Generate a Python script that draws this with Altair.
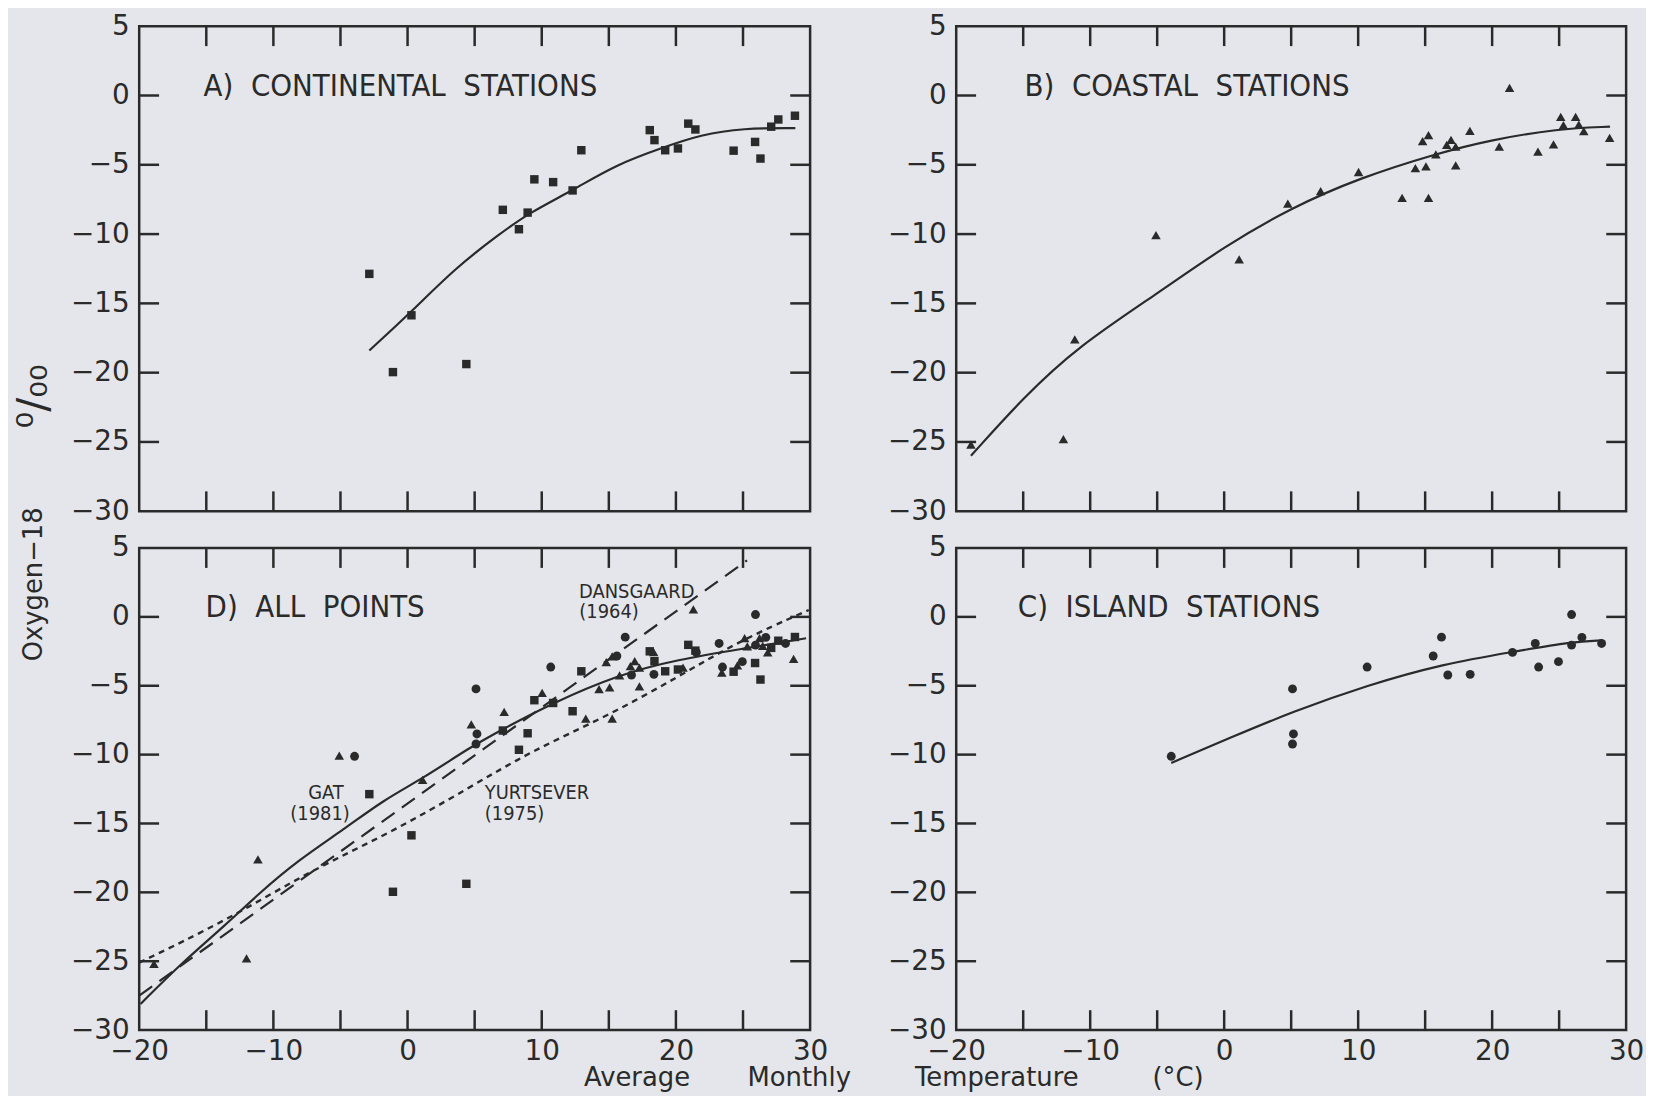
import altair as alt
import pandas as pd

# ---------------- data ----------------
# A) continental stations (squares)
cont_t = [-2.85, -1.09, 0.29, 4.38, 7.1, 8.3, 8.95, 9.45, 10.85, 12.3, 12.95, 18.05, 18.4,
          19.2, 20.15, 20.92, 21.45, 24.3, 25.9, 26.3, 27.1, 27.63, 28.87]
cont_o = [-12.87, -19.96, -15.86, -19.38, -8.25, -9.65, -8.45, -6.05, -6.25, -6.85, -3.95, -2.5, -3.22,
          -3.95, -3.82, -2.03, -2.45, -3.98, -3.35, -4.55, -2.25, -1.73, -1.46]
# B) coastal stations (triangles)
coast_t = [-18.9, -12.0, -11.15, -5.09, 1.12, 4.75, 7.2, 10.03, 13.28, 14.27, 14.81, 15.06, 15.25, 15.25,
           15.8, 16.61, 16.93, 17.28, 17.28, 18.34, 20.53, 21.3, 23.42, 24.58, 25.12, 25.32, 26.23,
           26.47, 26.84, 28.77]
coast_o = [-25.2, -24.8, -17.6, -10.08, -11.83, -7.8, -6.9, -5.52, -7.38, -5.24, -3.29, -5.12, -2.86, -7.38,
           -4.24, -3.57, -3.21, -3.69, -5.05, -2.55, -3.69, 0.55, -4.05, -3.52, -1.55, -2.14, -1.55,
           -2.1, -2.57, -3.05]
# C) island stations (circles)
isl_t = [-3.95, 5.1, 5.17, 5.1, 10.67, 15.6, 16.22, 16.69, 18.36, 21.52, 23.22, 23.47, 24.95, 25.93,
         25.93, 26.7, 28.17]
isl_o = [-10.12, -5.23, -8.5, -9.23, -3.64, -2.84, -1.47, -4.22, -4.17, -2.58, -1.93, -3.64, -3.25, 0.17,
         -2.05, -1.49, -1.93]

# fitted curves
fitA_t = [-2.85, 0.3, 3.6, 7.0, 9.0, 12.4, 15.5, 19.2, 21.8, 25.0, 28.9]
fitA_o = [-18.4, -15.6, -12.4, -9.9, -8.5, -6.8, -5.0, -3.7, -2.85, -2.35, -2.35]
fitB_t = [-18.9, -15.0, -10.9, -5.0, 0.0, 5.0, 10.1, 15.8, 19.9, 24.9, 28.8]
fitB_o = [-26.0, -21.8, -18.1, -14.3, -10.9, -8.1, -5.95, -4.2, -3.2, -2.4, -2.25]
fitC_t = [-3.95, 0.4, 5.05, 10.7, 16.4, 21.5, 26.0, 28.2]
fitC_o = [-10.6, -8.8, -6.9, -4.95, -3.4, -2.55, -1.8, -1.7]
fitD_t = [-19.9, -16.8, -13.6, -11.1, -8.2, -4.7, -1.8, 1.2, 4.6, 7.0, 10.7, 15.7, 20.1, 25.1, 29.7]
fitD_o = [-28.1, -25.1, -22.4, -20.1, -17.7, -15.4, -13.3, -11.7, -9.5, -8.2, -6.3, -4.2, -3.1, -2.3, -1.55]
dans_t = [-20.0, 25.3]
dans_o = [-27.5, 4.1]
yurt_t = [-20.0, -13.6, -7.2, -1.3, 4.6, 9.3, 14.7, 20.1, 24.6, 29.9]
yurt_o = [-25.1, -22.1, -18.4, -15.7, -12.4, -9.7, -7.3, -4.4, -1.8, 0.5]

panel_titles = ["A)\u00a0\u00a0CONTINENTAL\u00a0\u00a0STATIONS", "B)\u00a0\u00a0COASTAL\u00a0\u00a0STATIONS",
                "D)\u00a0\u00a0ALL\u00a0\u00a0POINTS", "C)\u00a0\u00a0ISLAND\u00a0\u00a0STATIONS"]
title_t = [-15.2, -14.9, -15.05, -15.4]

ann_text = ["DANSGAARD", "(1964)", "YURTSEVER", "(1975)"]
ann_t = [12.78, 12.8, 5.76, 5.76]
ann_o = [1.39, -0.1, -13.2, -14.75]
gat_text = ["GAT", "(1981)"]
gat_t = [-4.76, -4.31]
gat_o = [-13.2, -14.75]

x_ticks = [-15, -10, -5, 0, 5, 10, 15, 20, 25]
y_ticks = [-25, -20, -15, -10, -5, 0]
x_labels = [-20, -10, 0, 10, 20, 30]
y_labels = [-30, -25, -20, -15, -10, -5, 0, 5]

# ---------------- styling ----------------
INK = "#2a2a2a"
BG = "#e4e6eb"
NARROW = "Liberation Sans Narrow, DejaVu Sans Condensed, Liberation Sans, sans-serif"
SANS = "DejaVu Sans"
W1, W2 = 675, 674
H_TOP, H_BOT = 488, 485
TL = 20

XS = alt.Scale(domain=[-20, 30], nice=False, zero=False)
YS = alt.Scale(domain=[-30, 5], nice=False, zero=False)


def df(t, o):
    return pd.DataFrame({"x": t, "y": o})


def make_panel(idx, width, height, points, curves, x_axis, y_axis, extra=None):
    X = alt.X("x:Q", scale=XS, axis=x_axis)
    Y = alt.Y("y:Q", scale=YS, axis=y_axis)
    layers = []
    xt = pd.DataFrame({"x": x_ticks})
    yt = pd.DataFrame({"y": y_ticks})
    rule = dict(color=INK, strokeWidth=2.5)
    layers.append(alt.Chart(xt).mark_rule(**rule).encode(x=X, y=alt.value(0), y2=alt.value(TL)))
    layers.append(alt.Chart(xt).mark_rule(**rule).encode(x=X, y=alt.value(height - TL), y2=alt.value(height)))
    layers.append(alt.Chart(yt).mark_rule(**rule).encode(y=Y, x=alt.value(0), x2=alt.value(TL)))
    layers.append(alt.Chart(yt).mark_rule(**rule).encode(y=Y, x=alt.value(width - TL), x2=alt.value(width)))
    for d, dash, sw in curves:
        kw = dict(color=INK, strokeWidth=sw, interpolate="basis")
        if dash:
            kw["strokeDash"] = dash
        layers.append(alt.Chart(d).mark_line(**kw).encode(x=X, y=Y, order="x:Q"))
    for d, shape in points:
        if shape == "circle":
            m = alt.Chart(d).mark_circle(color=INK, size=80, opacity=1)
        else:
            m = alt.Chart(d).mark_point(shape=shape, filled=True, color=INK,
                                        size=72 if shape == "square" else 92, opacity=1)
        layers.append(m.encode(x=X, y=Y))
    tdf = pd.DataFrame({"x": [title_t[idx]], "y": [0.0], "label": [panel_titles[idx]]})
    layers.append(alt.Chart(tdf).mark_text(align="left", baseline="alphabetic", font=NARROW,
                                           fontSize=31, color=INK).encode(x=X, y=Y, text="label:N"))
    if extra is not None:
        layers.extend([e.encode(x=X, y=Y, text="label:N") for e in extra])
    return alt.layer(*layers).properties(width=width, height=height)


def yaxis(title=None, tx=0, ty=0, size=26):
    kw = dict(values=y_labels, ticks=False, domain=False, grid=False, labelFont=SANS, labelFontSize=28,
              labelColor=INK, labelPadding=10, labelOverlap=False, labelFlush=False, format="d")
    if title:
        kw.update(title=title, titleX=tx, titleY=ty, titleAngle=270, titleAlign="center",
                  titleBaseline="middle", titleFont=SANS, titleFontSize=size, titleFontWeight="normal",
                  titleColor=INK)
    else:
        kw.update(title=None)
    return alt.Axis(**kw)


def xaxis(title, tx, ty):
    return alt.Axis(values=x_labels, ticks=False, domain=False, grid=False, labelFont=SANS, labelFontSize=28,
                    labelColor=INK, labelPadding=8, labelOverlap=False, labelFlush=False, format="d",
                    title=title, titleX=tx, titleY=ty, titleAlign="left", titleBaseline="alphabetic",
                    titleFont=SANS, titleFontSize=26, titleFontWeight="normal", titleColor=INK)


sq = df(cont_t, cont_o)
tr = df(coast_t, coast_o)
ci = df(isl_t, isl_o)

panelA = make_panel(0, W1, H_TOP, [(sq, "square")], [(df(fitA_t, fitA_o), None, 2.2)], None,
                    yaxis("\u2070/\u2080\u2080", -106, 372, 42))
panelB = make_panel(1, W2, H_TOP, [(tr, "triangle-up")], [(df(fitB_t, fitB_o), None, 2.2)], None, yaxis())

ann = alt.Chart(pd.DataFrame({"x": ann_t, "y": ann_o, "label": ann_text})).mark_text(
    align="left", baseline="alphabetic", font=NARROW, fontSize=20, color=INK)
gat = alt.Chart(pd.DataFrame({"x": gat_t, "y": gat_o, "label": gat_text})).mark_text(
    align="right", baseline="alphabetic", font=NARROW, fontSize=20, color=INK)

nb = "\u00a0"
panelD = make_panel(2, W1, H_BOT, [(sq, "square"), (tr, "triangle-up"), (ci, "circle")],
                    [(df(fitD_t, fitD_o), None, 2.2), (df(dans_t, dans_o), [16, 9], 2.2),
                     (df(yurt_t, yurt_o), [6, 5], 2.4)],
                    xaxis("Average" + nb * 7 + "Monthly", 447, 56),
                    yaxis("Oxygen\u221218", -106, 36, 26), extra=[ann, gat])
panelC = make_panel(3, W2, H_BOT, [(ci, "circle")], [(df(fitC_t, fitC_o), None, 2.2)],
                    xaxis("Temperature" + nb * 9 + "(\u00b0C)", -42, 56), yaxis())

chart = alt.concat(panelA, panelB, panelD, panelC, columns=2,
                   spacing=alt.RowColnumber(row=37, column=147), bounds="flush").properties(
    background=BG, padding={"left": 3, "top": -1, "right": 0, "bottom": 0}
).configure_view(stroke=INK, strokeWidth=2.5)

chart.save("out.html", embed_options={"renderer": "svg", "actions": False})
